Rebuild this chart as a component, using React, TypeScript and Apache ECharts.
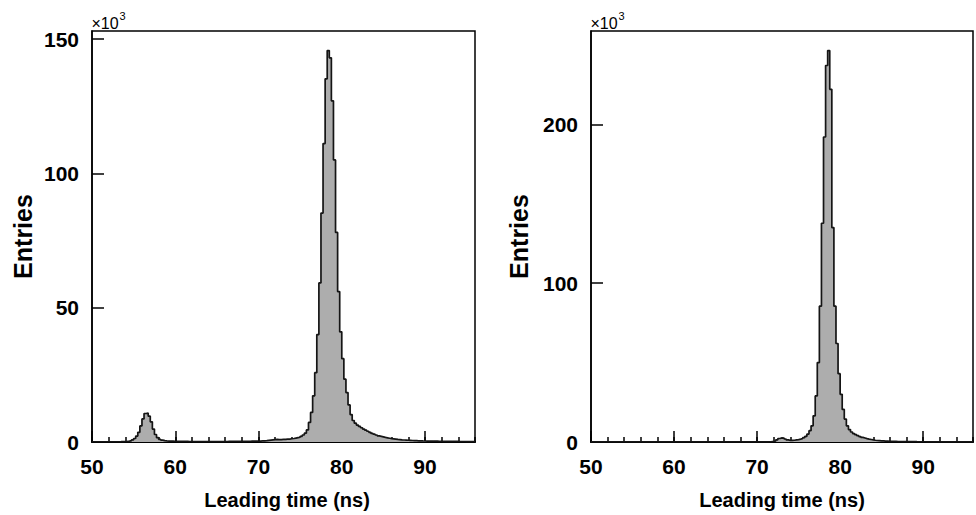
import React, { useEffect, useRef } from "react";
import * as echarts from "echarts";

// Histogram binning (ns)
const BIN_START = 50;
const BIN_WIDTH = 0.25;
const X_MIN = 50;
const X_MAX = 96;
const X_TICK_LABELS = [50, 60, 70, 80, 90];
const LEFT_Y_TICKS = [0, 50, 100, 150];
const RIGHT_Y_TICKS = [0, 100, 200];
const X_TITLE = "Leading time (ns)";
const Y_TITLE = "Entries";

// Entries (x10^3) per 0.25 ns bin, 50 ns .. 96 ns — left panel
const leftCounts = [
  0.1, 0.1, 0.1, 0.1, 0.1, 0.1, 0.1, 0.1,
  0.1, 0.1, 0.1, 0.1, 0.1, 0.12, 0.15, 0.18,
  0.2, 0.3, 0.5, 0.8, 1.3, 2.2, 3.6, 6.0,
  8.6, 10.6, 10.8, 9.6, 7.5, 4.8, 2.8, 1.6,
  1.0, 0.7, 0.5, 0.4, 0.35, 0.3, 0.3, 0.28,
  0.25, 0.25, 0.22, 0.2, 0.2, 0.2, 0.18, 0.18,
  0.17, 0.16, 0.15, 0.15, 0.15, 0.15, 0.15, 0.15,
  0.15, 0.15, 0.15, 0.15, 0.15, 0.15, 0.15, 0.15,
  0.18, 0.2, 0.22, 0.22, 0.25, 0.25, 0.25, 0.25,
  0.25, 0.25, 0.27, 0.28, 0.3, 0.3, 0.32, 0.33,
  0.35, 0.4, 0.45, 0.5, 0.6, 0.7, 0.8, 0.9,
  0.95, 0.9, 0.9, 0.95, 1.0, 1.05, 1.1, 1.2,
  1.3, 1.45, 1.6, 1.8, 2.1, 2.6, 3.3, 4.5,
  7.3, 11, 17.2, 25.8, 40, 59.2, 85.2, 111.1,
  135.2, 145.7, 143, 127, 105, 78, 56, 41,
  31, 23.4, 18.4, 13.8, 10.2, 8.0, 7.0, 6.3,
  5.8, 5.3, 4.8, 4.4, 4.0, 3.6, 3.2, 2.9,
  2.6, 2.3, 2.1, 1.9, 1.7, 1.55, 1.4, 1.25,
  1.15, 1.05, 0.95, 0.88, 0.8, 0.75, 0.7, 0.65,
  0.6, 0.55, 0.5, 0.48, 0.45, 0.43, 0.4, 0.38,
  0.36, 0.34, 0.32, 0.31, 0.3, 0.29, 0.28, 0.27,
  0.26, 0.25, 0.24, 0.23, 0.22, 0.21, 0.2, 0.2,
  0.19, 0.18, 0.18, 0.17, 0.17, 0.16, 0.16, 0.15,
];

// Entries (x10^3) per 0.25 ns bin, 50 ns .. 96 ns — right panel
const rightCounts = [
  0.05, 0.05, 0.05, 0.05, 0.05, 0.05, 0.05, 0.05,
  0.05, 0.05, 0.05, 0.05, 0.05, 0.05, 0.05, 0.05,
  0.05, 0.05, 0.05, 0.05, 0.05, 0.05, 0.05, 0.05,
  0.05, 0.05, 0.05, 0.05, 0.05, 0.05, 0.05, 0.05,
  0.05, 0.05, 0.05, 0.05, 0.05, 0.05, 0.05, 0.05,
  0.05, 0.05, 0.05, 0.05, 0.05, 0.05, 0.05, 0.05,
  0.05, 0.05, 0.05, 0.05, 0.05, 0.05, 0.05, 0.05,
  0.05, 0.05, 0.05, 0.05, 0.05, 0.05, 0.05, 0.05,
  0.05, 0.05, 0.05, 0.05, 0.05, 0.05, 0.05, 0.05,
  0.05, 0.05, 0.05, 0.05, 0.05, 0.05, 0.05, 0.05,
  0.05, 0.05, 0.08, 0.1, 0.12, 0.15, 0.2, 0.3,
  0.7, 1.4, 2.2, 2.6, 2.5, 1.9, 1.3, 1.0,
  1.0, 1.1, 1.3, 1.5, 1.8, 2.2, 2.8, 3.6,
  5.0, 7.1, 10.2, 16.5, 29, 50, 85.5, 137.7,
  192, 237, 246.4, 222, 135, 85.5, 62, 43,
  30, 20.5, 14.4, 10.2, 7.8, 6.3, 5.3, 4.6,
  4.0, 3.4, 2.9, 2.5, 2.1, 1.8, 1.55, 1.3,
  1.1, 0.95, 0.85, 0.75, 0.65, 0.55, 0.5, 0.45,
  0.4, 0.38, 0.35, 0.32, 0.3, 0.28, 0.26, 0.25,
  0.23, 0.22, 0.2, 0.2, 0.18, 0.17, 0.16, 0.15,
  0.15, 0.14, 0.13, 0.13, 0.12, 0.12, 0.11, 0.11,
  0.1, 0.1, 0.1, 0.1, 0.1, 0.1, 0.1, 0.1,
  0.1, 0.1, 0.1, 0.1, 0.1, 0.1, 0.1, 0.1,
];

const FONT = "'Liberation Sans', Arial, Helvetica, sans-serif";

function toSteps(counts: number[]): number[][] {
  const pts = counts.map((v, i) => [BIN_START + i * BIN_WIDTH, v]);
  pts.push([BIN_START + counts.length * BIN_WIDTH, counts[counts.length - 1]]);
  return pts;
}

const PANELS = [
  { counts: leftCounts, yTicks: LEFT_Y_TICKS, yInterval: 50, left: 92, width: 383, yNameGap: 57, xNamePad: 7 },
  { counts: rightCounts, yTicks: RIGHT_Y_TICKS, yInterval: 100, left: 591, width: 382, yNameGap: 60, xNamePad: 0 },
];

export default function App() {
  const ref = useRef<HTMLDivElement>(null);

  useEffect(() => {
    if (!ref.current) return;
    const chart = echarts.init(ref.current, null, { renderer: "svg" });
    const black = "#000";

    const grid: any[] = [];
    const xAxis: any[] = [];
    const yAxis: any[] = [];
    const series: any[] = [];
    const graphic: any[] = [];

    PANELS.forEach((p, i) => {
      const peak = Math.max(...p.counts);
      const yMax = peak * 1.05;
      grid.push({
        left: p.left,
        top: 31,
        width: p.width,
        height: 412,
        show: true,
        borderColor: black,
        borderWidth: 1.5,
        backgroundColor: "transparent",
      });
      // major x ticks + labels
      xAxis.push({
        type: "value",
        gridIndex: i,
        position: "bottom",
        min: X_MIN,
        max: X_MAX,
        interval: 10,
        axisLine: { show: true, onZero: false, lineStyle: { color: black, width: 2 } },
        axisTick: { show: true, inside: true, length: 11, lineStyle: { color: black, width: 1.5 } },
        axisLabel: {
          show: true,
          margin: 14,
          fontSize: 21,
          fontWeight: "bold",
          color: black,
          fontFamily: FONT,
          showMaxLabel: false,
          formatter: (v: number) => (X_TICK_LABELS.includes(v) ? String(v) : ""),
        },
        splitLine: { show: false },
        name: X_TITLE,
        nameLocation: "middle",
        nameGap: 48,
        nameTextStyle: {
          fontSize: 20,
          fontWeight: "bold",
          color: black,
          fontFamily: FONT,
          padding: [0, 0, 0, p.xNamePad],
        },
      });
      // minor x ticks
      xAxis.push({
        type: "value",
        gridIndex: i,
        position: "bottom",
        min: X_MIN,
        max: X_MAX,
        interval: 2,
        axisLine: { show: false, onZero: false },
        axisTick: { show: true, inside: true, length: 5, lineStyle: { color: black, width: 1.5 } },
        axisLabel: { show: false },
        splitLine: { show: false },
      });
      yAxis.push({
        type: "value",
        gridIndex: i,
        min: 0,
        max: yMax,
        interval: p.yInterval,
        axisLine: { show: true, lineStyle: { color: black, width: 1.5 } },
        axisTick: { show: true, inside: true, length: 12, lineStyle: { color: black, width: 1.5 } },
        axisLabel: {
          margin: 13,
          fontSize: 21,
          fontWeight: "bold",
          color: black,
          fontFamily: FONT,
          showMaxLabel: false,
          formatter: (v: number) =>
            p.yTicks.includes(Math.round(v)) && Math.abs(v - Math.round(v)) < 1e-6 ? String(Math.round(v)) : "",
        },
        splitLine: { show: false },
        name: Y_TITLE,
        nameLocation: "middle",
        nameGap: p.yNameGap,
        nameRotate: 90,
        nameTextStyle: { fontSize: 25, fontWeight: "bold", color: black, fontFamily: FONT },
      });
      series.push({
        type: "line",
        xAxisIndex: i * 2,
        yAxisIndex: i,
        step: "end",
        data: toSteps(p.counts),
        showSymbol: false,
        symbol: "none",
        lineStyle: { color: "#151515", width: 1.7 },
        areaStyle: { color: "#adadad", opacity: 1 },
        silent: true,
      });
      graphic.push({
        type: "text",
        left: p.left - 0.5,
        top: 15,
        style: { text: "×10", fontSize: 16, fill: black, fontFamily: FONT },
      });
      graphic.push({
        type: "text",
        left: p.left + 27.5,
        top: 10,
        style: { text: "3", fontSize: 11, fill: black, fontFamily: FONT },
      });
    });

    chart.setOption({
      animation: false,
      backgroundColor: "#fff",
      grid,
      xAxis,
      yAxis,
      series,
      graphic,
    });

    return () => chart.dispose();
  }, []);

  return (
    <div
      ref={ref}
      style={{ position: "fixed", left: 0, top: 0, width: 976, height: 515, background: "#fff" }}
    />
  );
}
